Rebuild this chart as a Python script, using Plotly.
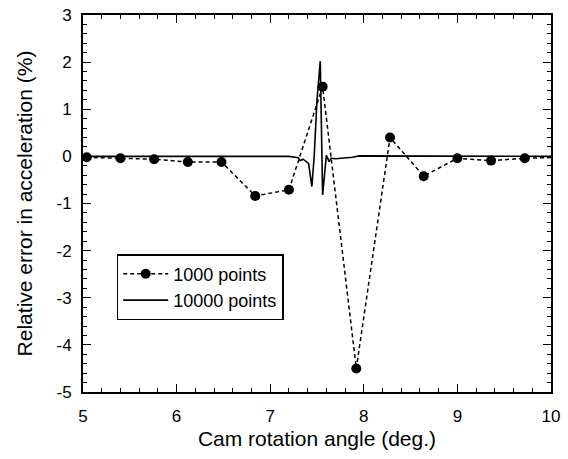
import plotly.graph_objects as go

# 1000-point solution (markers)
x_1000 = [5.04, 5.40, 5.76, 6.12, 6.48, 6.84, 7.20, 7.56, 7.92, 8.28, 8.64, 9.00, 9.36, 9.72, 10.08]
y_1000 = [-0.02, -0.04, -0.06, -0.12, -0.12, -0.84, -0.71, 1.48, -4.50, 0.40, -0.42, -0.04, -0.09, -0.04, -0.02]

# 10000-point solution (solid line)
x_10000 = [5.0, 5.5, 6.0, 6.5, 7.0, 7.2, 7.30, 7.32, 7.35, 7.39, 7.41, 7.445, 7.47, 7.50, 7.535, 7.56,
           7.58, 7.60, 7.63, 7.65, 7.70, 7.80, 7.88, 7.95, 8.5, 9.0, 9.5, 10.0]
y_10000 = [0.0, 0.0, 0.01, 0.01, 0.0, 0.0, -0.03, -0.09, -0.06, -0.12, -0.15, -0.64, 0.0, 1.20, 2.02, -0.82,
           -0.30, 0.02, -0.11, -0.04, -0.05, -0.04, -0.02, 0.01, 0.01, 0.0, 0.0, 0.0]

x_ticks = [5, 6, 7, 8, 9, 10]
y_ticks = [-5, -4, -3, -2, -1, 0, 1, 2, 3]

font_family = "Liberation Sans, Arial, sans-serif"

fig = go.Figure()
fig.add_trace(go.Scatter(
    x=x_1000, y=y_1000, mode="lines+markers", name="1000 points",
    line=dict(color="black", width=1.5, dash="4px,3px"),
    marker=dict(color="black", size=10, symbol="circle"),
))
fig.add_trace(go.Scatter(
    x=x_10000, y=y_10000, mode="lines", name="10000 points",
    line=dict(color="black", width=1.6),
))

axis_common = dict(
    showgrid=False, zeroline=False, automargin=False,
    showline=True, linecolor="black", linewidth=1.8, mirror="allticks",
    ticks="inside", ticklen=8, tickwidth=1.2, tickcolor="black",
    tickfont=dict(size=17, color="black", family=font_family),
)

fig.update_xaxes(
    range=[5, 10], tickvals=x_ticks, ticktext=[str(v) for v in x_ticks],
    minor=dict(dtick=0.2, ticks="inside", ticklen=4, tickwidth=1, tickcolor="black"),
    ticklabelstandoff=8,
    title=dict(text="Cam rotation angle (deg.)", font=dict(size=21, color="black", family=font_family), standoff=6),
    **axis_common,
)
fig.update_yaxes(
    range=[-5, 3], tickvals=y_ticks, ticktext=[str(v) for v in y_ticks],
    minor=dict(dtick=0.2, ticks="inside", ticklen=4, tickwidth=1, tickcolor="black"),
    ticklabelstandoff=6,
    title=dict(text="Relative error in acceleration (%)", font=dict(size=21, color="black", family=font_family), standoff=18),
    **axis_common,
)

fig.update_layout(
    width=568, height=459,
    margin=dict(l=83, r=17, t=15, b=67),
    plot_bgcolor="white", paper_bgcolor="white",
    font=dict(family=font_family, color="black"),
    showlegend=True,
    legend=dict(
        x=0.072, y=0.366, xanchor="left", yanchor="top",
        bgcolor="white", bordercolor="black", borderwidth=1.5,
        font=dict(size=18, color="black", family=font_family),
        tracegroupgap=0, itemwidth=45,
    ),
)

fig.write_html("out.html", config={"displayModeBar": False},
               post_script="document.body.style.margin='0';")
